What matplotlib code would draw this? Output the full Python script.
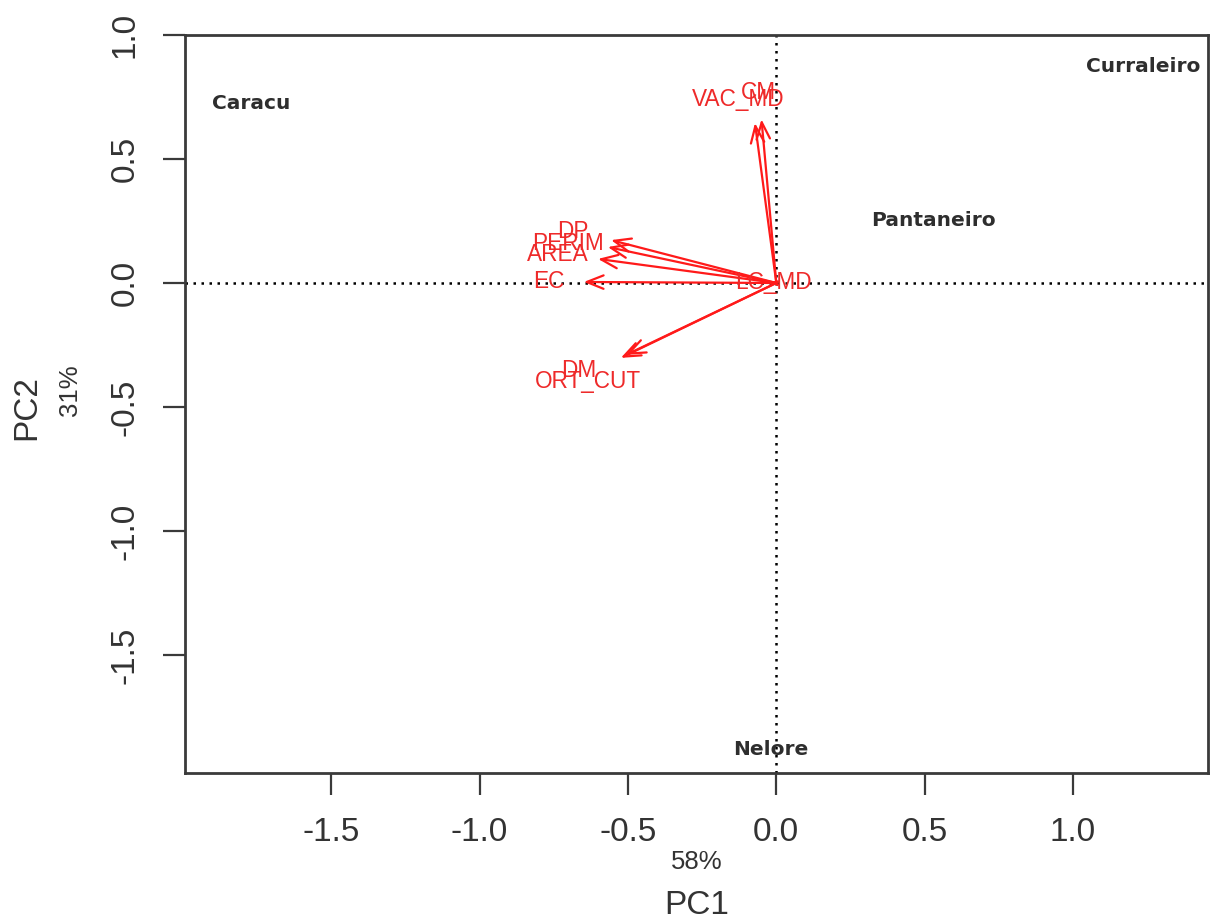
import matplotlib
matplotlib.use("Agg")
import matplotlib.pyplot as plt

# Breed scores on the first two principal components
breeds = ["Caracu", "Curraleiro", "Pantaneiro", "Nelore"]
breed_pc1 = [-1.77, 1.235, 0.53, -0.02]
breed_pc2 = [0.725, 0.871, 0.252, -1.882]

# Variable loadings (arrow tips) and where their names sit
variables = ["DP", "PERIM", "AREA", "EC", "LC_MD", "VAC_MD", "CM", "DM", "ORT_CUT"]
load_pc1 = [-0.557, -0.568, -0.601, -0.649, -0.02, -0.072, -0.05, -0.507, -0.524]
load_pc2 = [0.173, 0.145, 0.097, 0.004, 0.003, 0.645, 0.66, -0.29, -0.302]
label_pc1 = [-0.686, -0.703, -0.736, -0.767, -0.01, -0.128, -0.06, -0.666, -0.635]
label_pc2 = [0.206, 0.161, 0.113, 0.004, 0.0, 0.738, 0.77, -0.351, -0.399]

x_ticks = [-1.5, -1.0, -0.5, 0.0, 0.5, 1.0]
y_ticks = [-1.5, -1.0, -0.5, 0.0, 0.5, 1.0]
var_pc1, var_pc2 = "58%", "31%"

plt.rcParams["font.family"] = ["Liberation Sans", "DejaVu Sans"]

fig = plt.figure(figsize=(12.12, 9.22), dpi=100)
ax = fig.add_axes([185 / 1212, 1 - 773 / 922, (1208 - 185) / 1212, (773 - 35) / 922])
ax.set_xlim(-1.993, 1.455)
ax.set_ylim(-1.976, 1.0)

# reference lines through the origin
ax.axhline(0, color="black", lw=1.8, ls=(0, (1, 2.2)), zorder=1)
ax.axvline(0, color="black", lw=1.8, ls=(0, (1, 2.2)), zorder=1)

# breed names
for name, x, y in zip(breeds, breed_pc1, breed_pc2):
    ax.text(x, y, name, ha="center", va="center", fontsize=14.5,
            family="DejaVu Sans", weight="semibold", color="#2e2e2e", zorder=3)

# loading arrows
red = "#ff1a1a"
for x, y in zip(load_pc1, load_pc2):
    length = (x ** 2 + y ** 2) ** 0.5
    scale = 22 if length > 0.1 else 6
    ax.annotate("", xy=(x, y), xytext=(0, 0),
                arrowprops=dict(arrowstyle="->,head_length=0.55,head_width=0.22",
                                color=red, lw=1.6, mutation_scale=scale,
                                shrinkA=0, shrinkB=0), zorder=2)
for name, x, y in zip(variables, label_pc1, label_pc2):
    ax.text(x, y, name, ha="center", va="center", fontsize=16.3,
            color="#ee2a2a", zorder=3)

for s in ax.spines.values():
    s.set_linewidth(2.0)
    s.set_color("#3a3a3a")

ax.set_xticks(x_ticks)
ax.set_yticks(y_ticks)
ax.set_xticklabels([f"{v:.1f}" for v in x_ticks])
ax.set_yticklabels([f"{v:.1f}" for v in y_ticks], rotation=90, va="center")
ax.tick_params(axis="both", direction="out", length=16, width=1.6,
               color="#3a3a3a", labelsize=24, labelcolor="#333333", pad=16)

fig.text(697 / 1212, 1 - 862 / 922, var_pc1, ha="center", va="center",
         fontsize=18.5, color="#333333")
fig.text(697 / 1212, 1 - 905 / 922, "PC1", ha="center", va="center",
         fontsize=24, color="#333333")
fig.text(70 / 1212, 1 - 390 / 922, var_pc2, ha="center", va="center",
         fontsize=18.5, rotation=90, color="#333333")
fig.text(27 / 1212, 1 - 408 / 922, "PC2", ha="center", va="center",
         fontsize=24, rotation=90, color="#333333")

fig.savefig("out.png", dpi=100, facecolor="white")
